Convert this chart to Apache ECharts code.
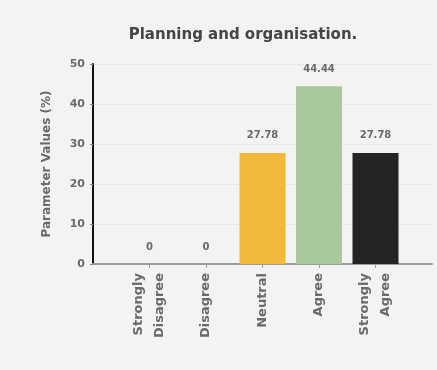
<!DOCTYPE html>
<html>
<head>
<meta charset="utf-8">
<script src="https://cdn.jsdelivr.net/npm/echarts@6/dist/echarts.min.js"></script>
<style>
  html, body { margin: 0; padding: 0; background: #f2f2f0; }
  #chart { width: 437px; height: 370px; }
</style>
</head>
<body>
<div id="chart"></div>
<script>
const categories = ['Strongly\nDisagree', 'Disagree', 'Neutral', 'Agree', 'Strongly\nAgree']
const values = [0, 0, 27.78, 44.44, 27.78]
const barColors = ['#9e9e9e', '#9e9e9e', '#f1b93c', '#a9c89c', '#242424']
const yTicks = [0, 10, 20, 30, 40, 50]

// bars sit at positions 1..5 on a 0..6 value axis so the axis runs past both ends
const positions = categories.map((_, i) => i + 1)

const chart = echarts.init(document.getElementById('chart'))

chart.setOption({
  backgroundColor: '#f3f3f1',
  title: {
    text: 'Planning and organisation.',
    left: 238,
    textAlign: 'center',
    top: 23,
    textStyle: { color: '#454545', fontSize: 15, fontWeight: 'bold', fontFamily: 'DejaVu Sans' },
  },
  grid: { left: 93, right: 5, top: 64, bottom: 106 },
  xAxis: {
    type: 'value',
    min: 0,
    max: 6,
    interval: 1,
    axisLine: { show: true, lineStyle: { color: '#9a9a9a', width: 2 } },
    axisTick: { show: true, customValues: positions, length: 4, lineStyle: { color: '#9a9a9a' } },
    splitLine: { show: false },
    axisLabel: {
      customValues: positions,
      rotate: 90,
      margin: 9,
      color: '#6a6a6a',
      fontSize: 13,
      fontWeight: 'bold',
      lineHeight: 21,
      fontFamily: 'DejaVu Sans',
      formatter: v => categories[Math.round(v) - 1] || '',
    },
  },
  yAxis: {
    type: 'value',
    min: yTicks[0],
    max: yTicks[yTicks.length - 1],
    interval: 10,
    name: 'Parameter Values (%)',
    nameLocation: 'middle',
    nameGap: 40,
    nameTextStyle: { color: '#6a6a6a', fontSize: 12, fontWeight: 'bold', fontFamily: 'DejaVu Sans' },
    axisLine: { show: true, lineStyle: { color: '#111', width: 2 } },
    axisTick: { show: true, length: 3, lineStyle: { color: '#888' } },
    axisLabel: { color: '#6a6a6a', fontSize: 11, fontWeight: 'bold', margin: 8, fontFamily: 'DejaVu Sans' },
    splitLine: { show: true, lineStyle: { color: '#dcdcdc', type: 'dotted' } },
  },
  series: [{
    type: 'bar',
    barWidth: 46,
    data: values.map((v, i) => ({ value: [positions[i], v], itemStyle: { color: barColors[i] } })),
    label: {
      show: true,
      position: 'top',
      distance: 12,
      color: '#6a6a6a',
      fontSize: 10,
      fontWeight: 'bold',
      fontFamily: 'DejaVu Sans',
      formatter: p => p.value[1] === 0 ? '0' : p.value[1].toFixed(2),
    },
  }],
})
</script>
</body>
</html>
